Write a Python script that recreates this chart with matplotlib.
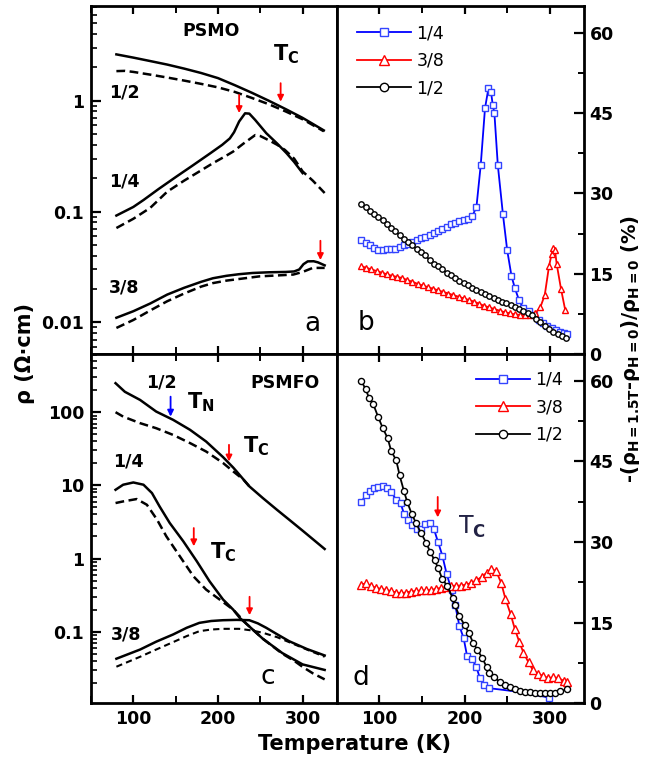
import numpy as np
import matplotlib
matplotlib.use("Agg")
import matplotlib.pyplot as plt
from matplotlib.ticker import MultipleLocator, LogLocator, NullFormatter

plt.rcParams['font.family'] = ['DejaVu Sans']
plt.rcParams['font.weight'] = 'bold'
plt.rcParams['mathtext.fontset'] = 'dejavusans'

# ---- panel a : PSMO resistivity (solid H=0, dashed H=1.5T)
a_T_half = [80, 100, 120, 140, 160, 180, 200, 220, 240, 260, 280, 300, 325]
a_half_h0 = [2.62, 2.45, 2.28, 2.12, 1.95, 1.78, 1.60, 1.38, 1.18, 1.00, 0.84, 0.70, 0.54]
a_Td_half = [80, 90, 100, 120, 140, 160, 180, 200, 220, 240, 260, 280, 300, 325]
a_half_h = [1.85, 1.86, 1.82, 1.72, 1.62, 1.52, 1.42, 1.32, 1.20, 1.06, 0.93, 0.80, 0.68, 0.53]

a_T_q = [80, 100, 112, 130, 151, 170, 191, 205, 214, 219, 225, 232, 237, 244, 257, 270, 281, 290, 300]
a_q_h0 = [0.092, 0.11, 0.127, 0.16, 0.207, 0.26, 0.336, 0.40, 0.457, 0.52, 0.65, 0.77, 0.765, 0.67,
          0.51, 0.41, 0.336, 0.28, 0.222]
a_Td_q = [80, 100, 120, 140, 160, 180, 194, 210, 218, 230, 244, 250, 260, 270, 279, 290, 300, 312, 326]
a_q_h = [0.071, 0.086, 0.108, 0.151, 0.19, 0.235, 0.273, 0.32, 0.348, 0.41, 0.49, 0.48, 0.44, 0.40,
         0.36, 0.30, 0.23, 0.19, 0.147]

a_T_38 = [80, 100, 120, 140, 160, 180, 194, 210, 225, 241, 260, 280, 290, 296, 301, 306, 313, 318, 326]
a_38_h0 = [0.011, 0.0126, 0.0148, 0.0178, 0.0205, 0.0232, 0.025, 0.0263, 0.0272, 0.0279, 0.0283,
           0.0285, 0.0288, 0.030, 0.0335, 0.0355, 0.0356, 0.0348, 0.0327]
a_Td_38 = [80, 100, 120, 140, 160, 180, 194, 210, 230, 249, 270, 289, 300, 312, 326]
a_38_h = [0.0089, 0.0105, 0.0128, 0.0155, 0.0182, 0.021, 0.0226, 0.0238, 0.0249, 0.026, 0.0265,
          0.027, 0.0285, 0.031, 0.031]

# ---- panel c : PSMFO resistivity
c_T_half = [79, 90, 108, 127, 147, 167, 186, 206, 218, 222, 237, 253, 270, 284, 300, 326]
c_half_h0 = [249, 190, 147, 102, 78.6, 57.4, 39.7, 24.3, 17.5, 15.5, 9.7, 6.7, 4.6, 3.4, 2.4, 1.35]
c_Td_half = [79, 88, 108, 127, 147, 167, 186, 206, 218, 230, 237]
c_half_h = [100, 87, 70.8, 60.4, 48.9, 37.8, 29.0, 20.2, 15.5, 12.0, 9.7]

c_T_q = [79, 88, 100, 112, 122, 131, 143, 159, 175, 190, 206, 218, 226, 233, 253, 276, 300, 326]
c_q_h0 = [8.7, 10.2, 10.95, 10.2, 7.85, 5.15, 3.06, 1.72, 0.916, 0.489, 0.275, 0.2, 0.153, 0.13,
          0.08, 0.051, 0.0357, 0.03]
c_Td_q = [79, 88, 104, 116, 128, 139, 155, 171, 186, 202, 218, 233, 253, 276, 290, 300, 312, 326]
c_q_h = [5.73, 6.03, 6.5, 5.43, 3.4, 2.01, 1.07, 0.571, 0.376, 0.275, 0.2, 0.13, 0.08, 0.05, 0.04,
         0.033, 0.027, 0.0223]

c_T_38 = [80, 108, 127, 147, 163, 178, 192, 206, 222, 237, 247, 257, 270, 284, 305, 326]
c_38_h0 = [0.0427, 0.057, 0.073, 0.0916, 0.113, 0.132, 0.140, 0.1435, 0.145, 0.1435, 0.13, 0.113,
           0.092, 0.0742, 0.058, 0.0473]
c_Td_38 = [80, 108, 127, 147, 163, 178, 192, 206, 225, 240, 253, 270, 284, 305, 326]
c_38_h = [0.0332, 0.0454, 0.057, 0.072, 0.087, 0.1016, 0.107, 0.1094, 0.1094, 0.104, 0.0966, 0.084,
          0.072, 0.057, 0.0454]

# ---- panel b : PSMO magnetoresistance (%)
b_T_q = [79, 84, 89, 94, 99, 104, 109, 114, 119, 124, 129, 134, 139, 144, 149, 154, 159, 164, 169,
         174, 179, 184, 189, 194, 199, 204, 209, 214, 219, 224, 228, 231, 233, 235, 239, 245, 250,
         255, 259, 264, 269, 275, 281, 287, 292, 297, 302, 307, 312, 317, 320]
b_q = [21.3, 20.7, 20.4, 19.8, 19.5, 19.5, 19.6, 19.6, 19.7, 19.9, 20.3, 20.6, 20.9, 21.3, 21.6, 21.9,
       22.3, 22.6, 23.0, 23.4, 23.8, 24.2, 24.5, 24.8, 25.0, 25.3, 25.7, 27.5, 35.3, 45.9, 49.6, 49.0,
       46.6, 45.0, 35.3, 26.1, 19.4, 14.6, 12.3, 10.0, 8.5, 8.0, 7.2, 6.4, 5.8, 5.2, 4.8, 4.4, 4.1,
       3.9, 3.8]
b_T_38 = [79, 85, 91, 97, 103, 109, 115, 121, 127, 133, 139, 145, 151, 157, 163, 169, 175, 181, 187,
          193, 199, 205, 211, 217, 223, 229, 235, 241, 247, 253, 259, 265, 271, 277, 283, 289, 294,
          299, 302, 304, 306, 308, 313, 318]
b_38 = [16.4, 16.1, 15.8, 15.5, 15.2, 14.9, 14.6, 14.4, 14.2, 13.8, 13.5, 13.1, 12.8, 12.5, 12.2, 11.9,
        11.6, 11.3, 11.0, 10.7, 10.4, 10.1, 9.8, 9.4, 9.0, 8.7, 8.4, 8.1, 7.8, 7.6, 7.4, 7.3, 7.2, 7.3,
        7.6, 8.8, 11.0, 16.4, 18.6, 19.8, 19.4, 16.8, 12.2, 8.2]
b_T_half = [79, 84, 89, 94, 99, 104, 109, 114, 119, 124, 129, 134, 139, 144, 149, 154, 159, 164, 169,
            174, 179, 184, 189, 194, 199, 204, 209, 214, 219, 224, 229, 234, 239, 244, 249, 254, 259,
            264, 269, 274, 279, 284, 289, 294, 299, 304, 309, 314, 319]
b_half = [28.0, 27.4, 26.8, 26.2, 25.6, 25.0, 24.3, 23.6, 22.9, 22.2, 21.5, 20.9, 20.3, 19.6, 19.0,
          18.4, 17.6, 16.9, 16.4, 15.8, 15.2, 14.7, 14.2, 13.7, 13.2, 12.8, 12.4, 12.0, 11.6, 11.2,
          10.8, 10.5, 10.1, 9.8, 9.5, 9.1, 8.7, 8.4, 8.1, 7.6, 7.2, 6.6, 5.9, 5.2, 4.6, 4.1, 3.8, 3.4,
          3.0]

# ---- panel d : PSMFO magnetoresistance (%)
d_T_q = [79, 84, 89, 94, 99, 104, 109, 114, 120, 125, 129, 134, 139, 144, 149, 154, 159, 164, 169,
         174, 179, 185, 189, 194, 199, 203, 209, 214, 218, 223, 229, 240, 260, 280, 295, 299]
d_q = [37.4, 38.7, 39.5, 40.1, 40.3, 40.4, 40.1, 39.3, 37.9, 37.3, 35.3, 34.1, 33.1, 32.5, 32.5, 33.3,
       33.5, 32.5, 30.0, 27.5, 24.1, 21.0, 18.3, 14.4, 12.1, 8.8, 8.2, 6.7, 4.7, 3.4, 2.8, 2.6, 2.2,
       1.6, 1.2, 0.9]
d_q_marked = list(range(31)) + [35]
d_T_38 = [79, 84, 90, 96, 102, 108, 114, 120, 126, 131, 137, 143, 149, 155, 161, 167, 173, 178, 184,
          190, 196, 202, 208, 214, 220, 226, 231, 237, 243, 248, 254, 259, 264, 269, 275, 280, 286,
          292, 298, 304, 310, 316, 320]
d_38 = [22.1, 22.3, 21.9, 21.5, 21.3, 21.1, 20.9, 20.6, 20.5, 20.6, 20.8, 20.9, 21.0, 21.0, 21.1, 21.3,
        21.5, 21.6, 21.8, 21.9, 21.9, 22.1, 22.4, 22.9, 23.5, 24.3, 25.0, 24.6, 22.4, 19.4, 16.6, 13.8,
        11.5, 9.45, 7.6, 6.2, 5.5, 5.1, 4.7, 4.85, 4.7, 4.2, 4.0]
d_T_half = [79, 84, 88, 93, 99, 104, 110, 114, 120, 124, 129, 133, 138, 143, 149, 155, 160, 165, 169,
            174, 180, 186, 189, 194, 200, 205, 210, 215, 221, 226, 229, 235, 241, 247, 253, 259, 265,
            271, 277, 282, 288, 294, 300, 306, 312, 320]
d_half = [60.0, 58.5, 56.9, 55.7, 53.2, 51.3, 49.3, 47.0, 45.2, 42.4, 39.5, 37.4, 35.3, 33.6, 31.7,
          29.9, 28.1, 26.6, 25.2, 23.1, 21.8, 19.6, 18.2, 16.2, 14.6, 13.1, 11.3, 9.95, 8.4, 6.7, 5.7,
          4.85, 4.0, 3.4, 3.0, 2.6, 2.36, 2.18, 2.05, 2.0, 2.0, 2.0, 1.87, 1.87, 2.2, 2.6]

labels = ['1/4', '3/8', '1/2']

fig = plt.figure(figsize=(6.46, 7.64), dpi=100)
W, H = 646.0, 764.0
L, M, R = 91 / W, 336.5 / W, 584 / W
TOP, MID, BOT = 1 - 6 / H, 1 - 354 / H, 1 - 703.3 / H
axa = fig.add_axes([L, MID, M - L, TOP - MID])
axb = fig.add_axes([M, MID, R - M, TOP - MID])
axc = fig.add_axes([L, BOT, M - L, MID - BOT])
axd = fig.add_axes([M, BOT, R - M, MID - BOT])

for ax in (axa, axb, axc, axd):
    ax.set_xlim(50, 340)
    ax.xaxis.set_major_locator(MultipleLocator(100))
    ax.xaxis.set_minor_locator(MultipleLocator(50))
    ax.tick_params(axis='x', which='major', direction='in', top=True, bottom=True, length=6, width=1.6,
                   labelsize=12.5, pad=5)
    ax.tick_params(axis='x', which='minor', direction='in', top=True, bottom=True, length=5, width=1.4)
    for s in ax.spines.values():
        s.set_linewidth(2)
for ax in (axa, axb):
    ax.tick_params(axis='x', which='both', labelbottom=False)

# left log panels
for ax, lo, hi, ticks, tl in ((axa, 0.00518, 7.16, [0.01, 0.1, 1], ['0.01', '0.1', '1']),
                              (axc, 0.0105, 624, [0.1, 1, 10, 100], ['0.1', '1', '10', '100'])):
    ax.set_yscale('log')
    ax.set_ylim(lo, hi)
    ax.set_yticks(ticks)
    ax.set_yticklabels(tl)
    ax.yaxis.set_minor_locator(LogLocator(base=10, subs=np.arange(2, 10)))
    ax.yaxis.set_minor_formatter(NullFormatter())
    ax.tick_params(axis='y', which='major', direction='in', left=True, right=False, length=7, width=1.6,
                   labelsize=12.5, pad=5)
    ax.tick_params(axis='y', which='minor', direction='in', left=True, right=False, length=4, width=1.2)

# right linear panels
for ax in (axb, axd):
    ax.set_ylim(0, 65)
    ax.yaxis.set_major_locator(MultipleLocator(15))
    ax.yaxis.set_minor_locator(MultipleLocator(7.5))
    ax.tick_params(axis='y', which='major', direction='in', left=False, right=True, labelleft=False,
                   labelright=True, length=7, width=1.6, labelsize=12.5, pad=4)
    ax.tick_params(axis='y', which='minor', direction='in', left=False, right=True, length=4, width=1.4)

lw = 1.8
dash = (3.5, 1.8)
# panel a
axa.plot(a_T_half, a_half_h0, 'k-', lw=lw)
axa.plot(a_Td_half, a_half_h, 'k--', lw=lw, dashes=dash)
axa.plot(a_T_q, a_q_h0, 'k-', lw=lw)
axa.plot(a_Td_q, a_q_h, 'k--', lw=lw, dashes=dash)
axa.plot(a_T_38, a_38_h0, 'k-', lw=lw)
axa.plot(a_Td_38, a_38_h, 'k--', lw=lw, dashes=dash)
# panel c
axc.plot(c_T_half, c_half_h0, 'k-', lw=lw)
axc.plot(c_Td_half, c_half_h, 'k--', lw=lw, dashes=dash)
axc.plot(c_T_q, c_q_h0, 'k-', lw=lw)
axc.plot(c_Td_q, c_q_h, 'k--', lw=lw, dashes=dash)
axc.plot(c_T_38, c_38_h0, 'k-', lw=lw)
axc.plot(c_Td_38, c_38_h, 'k--', lw=1.5, dashes=(3, 2))

blue, red = '#0000ff', '#ff0000'
mk = dict(mfc='white', mew=1.0, lw=1.3)
axb.plot(b_T_q, b_q, '-', color=blue, marker='s', mec='#3344ff', ms=3.7, label=labels[0], **mk)
axb.plot(b_T_38, b_38, '-', color=red, marker='^', mec=red, ms=4.5, label=labels[1], **mk)
axb.plot(b_T_half, b_half, '-', color='black', marker='o', mec='black', ms=3.9, label=labels[2], **mk)

axd.plot(d_T_q, d_q, '-', color=blue, marker='s', mec='#3344ff', ms=4.4, markevery=d_q_marked,
         label=labels[0], **mk)
axd.plot(d_T_38, d_38, '-', color=red, marker='^', mec=red, ms=5.2, label=labels[1], **mk)
axd.plot(d_T_half, d_half, '-', color='black', marker='o', mec='black', ms=4.4, label=labels[2], **mk)

leg_kw = dict(frameon=False, prop={'weight': 'normal', 'size': 12.5}, handlelength=3.1,
              handletextpad=0.3, labelspacing=0.55, borderpad=0, borderaxespad=0)
axb.legend(loc='upper left', bbox_to_anchor=(0.084, 0.948), markerscale=1.55, **leg_kw)
axd.legend(loc='upper left', bbox_to_anchor=(0.565, 0.952), markerscale=1.35, **leg_kw)

# annotations
def arrow(ax, x, tip, tail, color='red'):
    ax.annotate('', xy=(x, tip), xytext=(x, tail),
                arrowprops=dict(arrowstyle='-|>', color=color, lw=1.3, mutation_scale=9,
                                shrinkA=0, shrinkB=0))

arrow(axa, 225, 0.774, 1.13)
arrow(axa, 274, 0.98, 1.44)
arrow(axa, 321, 0.0365, 0.0545)
arrow(axc, 144, 87, 163, color='blue')
arrow(axc, 213, 21.2, 35.8)
arrow(axc, 171.4, 1.47, 2.61)
arrow(axc, 237.3, 0.168, 0.30)
arrow(axd, 168.6, 34.6, 38.4)

tb = dict(fontsize=12.5, fontweight='bold', va='center')
axa.text(0.488, 0.929, 'PSMO', transform=axa.transAxes, ha='center', **tb)
axa.text(0.74, 0.862, r'T$_\mathbf{C}$', transform=axa.transAxes, ha='left', fontsize=15,
         fontweight='bold', va='center')
axa.text(0.074, 0.751, '1/2', transform=axa.transAxes, ha='left', **tb)
axa.text(0.074, 0.497, '1/4', transform=axa.transAxes, ha='left', **tb)
axa.text(0.074, 0.19, '3/8', transform=axa.transAxes, ha='left', **tb)
axa.text(0.902, 0.086, 'a', transform=axa.transAxes, ha='center', va='center', fontsize=19,
         fontweight='normal')

axc.text(0.224, 0.918, '1/2', transform=axc.transAxes, ha='left', **tb)
axc.text(0.79, 0.917, 'PSMFO', transform=axc.transAxes, ha='center', **tb)
axc.text(0.393, 0.862, r'T$_\mathbf{N}$', transform=axc.transAxes, ha='left', fontsize=15,
         fontweight='bold', va='center')
axc.text(0.62, 0.736, r'T$_\mathbf{C}$', transform=axc.transAxes, ha='left', fontsize=15,
         fontweight='bold', va='center')
axc.text(0.088, 0.691, '1/4', transform=axc.transAxes, ha='left', **tb)
axc.text(0.485, 0.432, r'T$_\mathbf{C}$', transform=axc.transAxes, ha='left', fontsize=15,
         fontweight='bold', va='center')
axc.text(0.081, 0.198, '3/8', transform=axc.transAxes, ha='left', **tb)
axc.text(0.721, 0.075, 'c', transform=axc.transAxes, ha='center', va='center', fontsize=19,
         fontweight='normal')

axb.text(0.118, 0.089, 'b', transform=axb.transAxes, ha='center', va='center', fontsize=19,
         fontweight='normal')
axd.text(0.098, 0.073, 'd', transform=axd.transAxes, ha='center', va='center', fontsize=19,
         fontweight='normal')
axd.text(0.49, 0.505, r'T$_\mathrm{C}$', transform=axd.transAxes, ha='left', va='center', fontsize=17,
         fontweight='normal', color='#222244')

fig.text(355 / W, 1 - 744 / H, 'Temperature (K)', ha='center', va='center', fontsize=15,
         fontweight='bold')
fig.text(25 / W, 1 - 354 / H, 'ρ (Ω·cm)', ha='center', va='center', rotation=90, fontsize=15,
         fontweight='bold')
fig.text(631 / W, 1 - 349 / H,
         r'-(ρ$_\mathbf{H=1.5T}$-ρ$_\mathbf{H=0}$)/ρ$_\mathbf{H=0}$ (%)',
         ha='center', va='center', rotation=90, fontsize=14, fontweight='bold')

fig.savefig('out.png', dpi=100)
